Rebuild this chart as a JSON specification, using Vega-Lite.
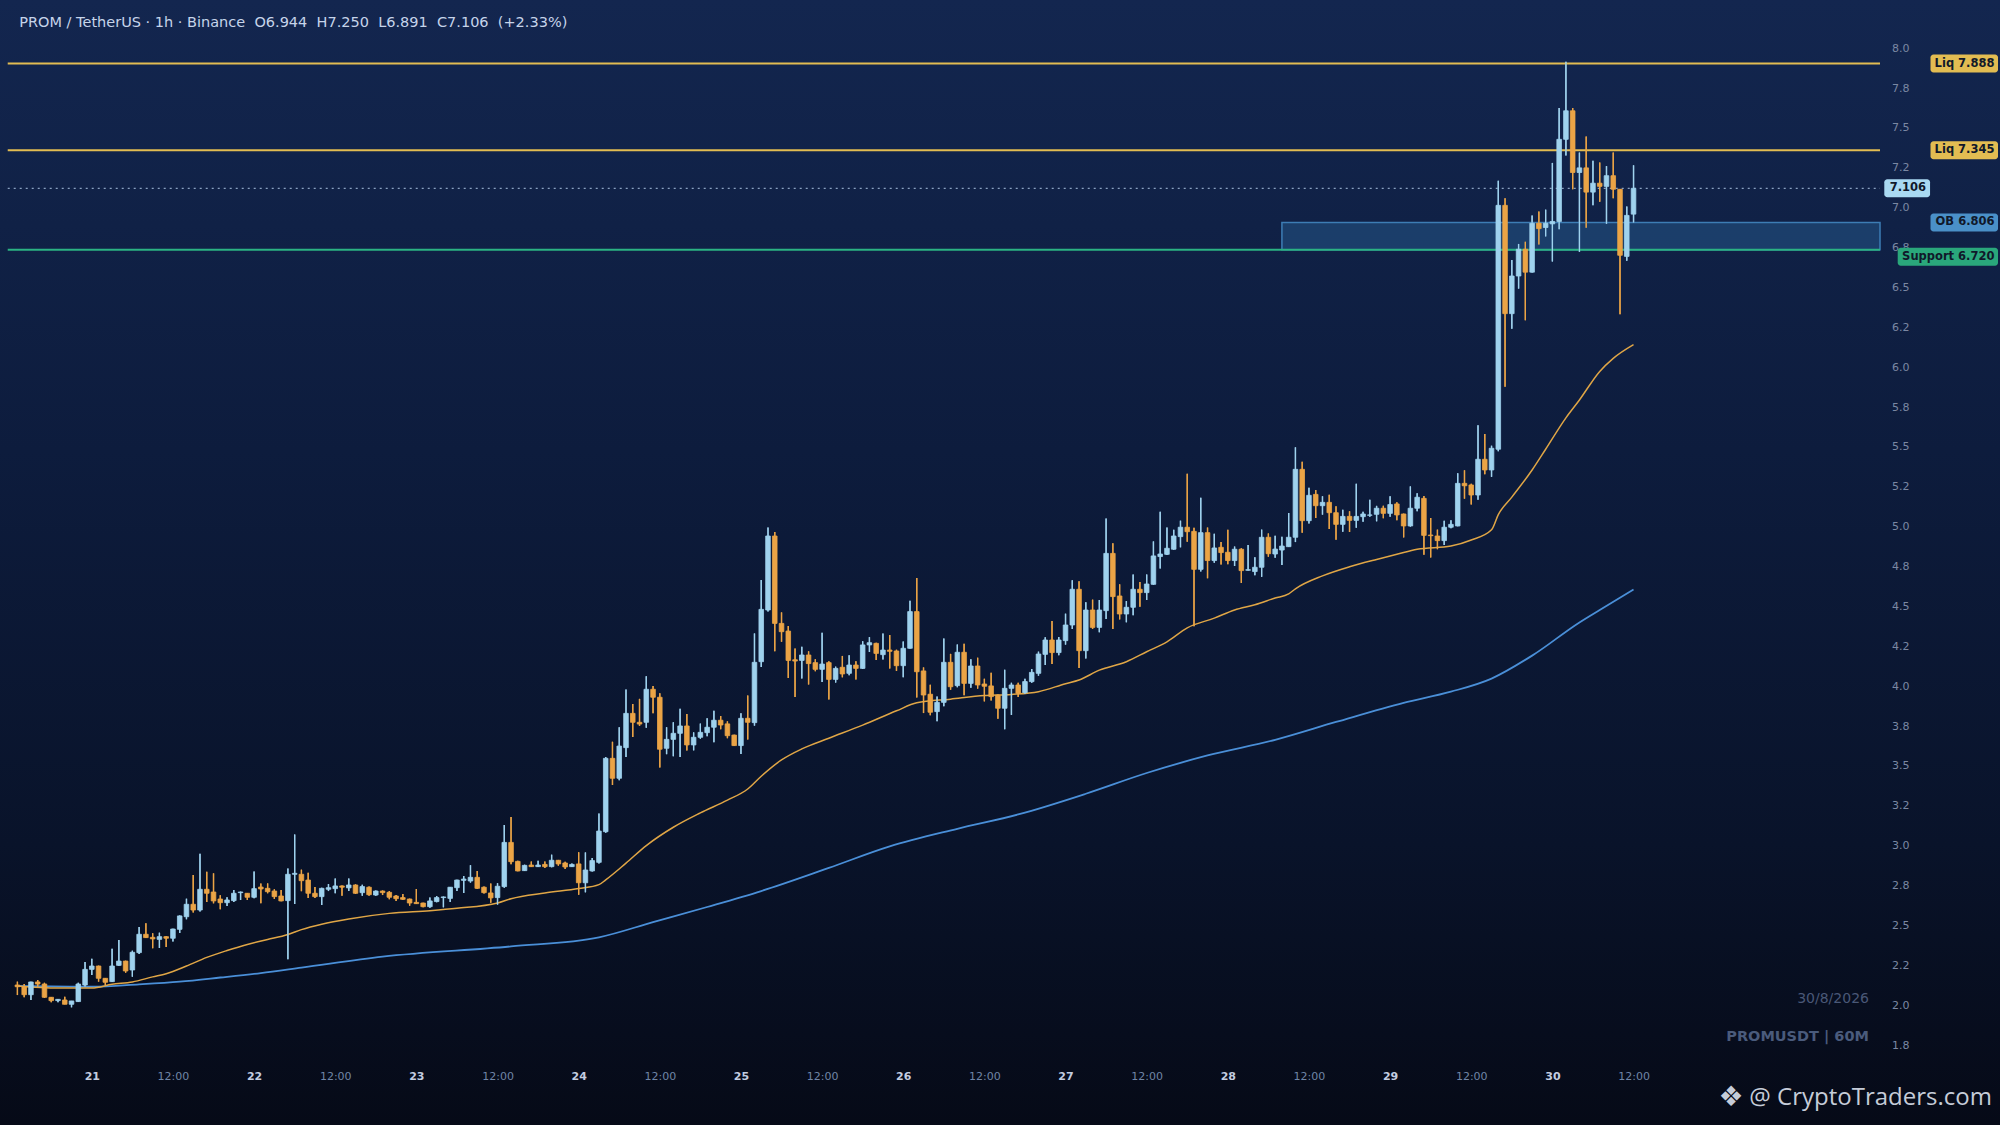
{
"$schema":"https://vega.github.io/schema/vega-lite/v6.json",
"width":2000,"height":1125,"padding":0,"autosize":{"type":"none"},
"background":"#070c1a",
"config":{"view":{"stroke":null,"fill":{"gradient":"linear","x1":0,"y1":0,"x2":0,"y2":1,"stops":[{"offset":0,"color":"#13264f"},{"offset":0.4,"color":"#0d1c3d"},{"offset":0.75,"color":"#09132a"},{"offset":1,"color":"#060a17"}]}},"font":"DejaVu Sans"},
"datasets":{
"candles":[
{"t":"2026-08-20T13:00Z","o":2.111,"h":2.132,"l":2.048,"c":2.100},
{"t":"2026-08-20T14:00Z","o":2.100,"h":2.117,"l":2.034,"c":2.050},
{"t":"2026-08-20T15:00Z","o":2.050,"h":2.132,"l":2.017,"c":2.130},
{"t":"2026-08-20T16:00Z","o":2.130,"h":2.142,"l":2.100,"c":2.117},
{"t":"2026-08-20T17:00Z","o":2.117,"h":2.125,"l":2.030,"c":2.034},
{"t":"2026-08-20T18:00Z","o":2.034,"h":2.036,"l":2.003,"c":2.013},
{"t":"2026-08-20T19:00Z","o":2.013,"h":2.021,"l":2.003,"c":2.021},
{"t":"2026-08-20T20:00Z","o":2.017,"h":2.038,"l":1.990,"c":1.990},
{"t":"2026-08-20T21:00Z","o":1.990,"h":2.011,"l":1.971,"c":2.011},
{"t":"2026-08-20T22:00Z","o":2.007,"h":2.125,"l":2.005,"c":2.117},
{"t":"2026-08-20T23:00Z","o":2.111,"h":2.255,"l":2.100,"c":2.209},
{"t":"2026-08-21T00:00Z","o":2.209,"h":2.276,"l":2.174,"c":2.230},
{"t":"2026-08-21T01:00Z","o":2.230,"h":2.232,"l":2.132,"c":2.153},
{"t":"2026-08-21T02:00Z","o":2.153,"h":2.155,"l":2.111,"c":2.128},
{"t":"2026-08-21T03:00Z","o":2.132,"h":2.339,"l":2.130,"c":2.230},
{"t":"2026-08-21T04:00Z","o":2.234,"h":2.393,"l":2.232,"c":2.261},
{"t":"2026-08-21T05:00Z","o":2.261,"h":2.263,"l":2.188,"c":2.199},
{"t":"2026-08-21T06:00Z","o":2.205,"h":2.326,"l":2.163,"c":2.316},
{"t":"2026-08-21T07:00Z","o":2.314,"h":2.475,"l":2.305,"c":2.429},
{"t":"2026-08-21T08:00Z","o":2.429,"h":2.498,"l":2.406,"c":2.408},
{"t":"2026-08-21T09:00Z","o":2.410,"h":2.435,"l":2.341,"c":2.400},
{"t":"2026-08-21T10:00Z","o":2.397,"h":2.439,"l":2.343,"c":2.414},
{"t":"2026-08-21T11:00Z","o":2.414,"h":2.416,"l":2.349,"c":2.404},
{"t":"2026-08-21T12:00Z","o":2.404,"h":2.464,"l":2.383,"c":2.462},
{"t":"2026-08-21T13:00Z","o":2.460,"h":2.546,"l":2.437,"c":2.544},
{"t":"2026-08-21T14:00Z","o":2.539,"h":2.652,"l":2.523,"c":2.617},
{"t":"2026-08-21T15:00Z","o":2.617,"h":2.800,"l":2.565,"c":2.581},
{"t":"2026-08-21T16:00Z","o":2.581,"h":2.934,"l":2.571,"c":2.711},
{"t":"2026-08-21T17:00Z","o":2.711,"h":2.821,"l":2.632,"c":2.686},
{"t":"2026-08-21T18:00Z","o":2.694,"h":2.811,"l":2.623,"c":2.638},
{"t":"2026-08-21T19:00Z","o":2.650,"h":2.673,"l":2.586,"c":2.627},
{"t":"2026-08-21T20:00Z","o":2.627,"h":2.661,"l":2.606,"c":2.644},
{"t":"2026-08-21T21:00Z","o":2.640,"h":2.707,"l":2.631,"c":2.686},
{"t":"2026-08-21T22:00Z","o":2.690,"h":2.696,"l":2.644,"c":2.694},
{"t":"2026-08-21T23:00Z","o":2.686,"h":2.688,"l":2.644,"c":2.661},
{"t":"2026-08-22T00:00Z","o":2.661,"h":2.823,"l":2.655,"c":2.715},
{"t":"2026-08-22T01:00Z","o":2.725,"h":2.748,"l":2.623,"c":2.713},
{"t":"2026-08-22T02:00Z","o":2.717,"h":2.748,"l":2.686,"c":2.696},
{"t":"2026-08-22T03:00Z","o":2.700,"h":2.711,"l":2.650,"c":2.665},
{"t":"2026-08-22T04:00Z","o":2.669,"h":2.707,"l":2.636,"c":2.638},
{"t":"2026-08-22T05:00Z","o":2.640,"h":2.842,"l":2.273,"c":2.805},
{"t":"2026-08-22T06:00Z","o":2.805,"h":3.054,"l":2.619,"c":2.811},
{"t":"2026-08-22T07:00Z","o":2.805,"h":2.834,"l":2.699,"c":2.765},
{"t":"2026-08-22T08:00Z","o":2.769,"h":2.815,"l":2.657,"c":2.686},
{"t":"2026-08-22T09:00Z","o":2.686,"h":2.726,"l":2.657,"c":2.665},
{"t":"2026-08-22T10:00Z","o":2.665,"h":2.721,"l":2.612,"c":2.717},
{"t":"2026-08-22T11:00Z","o":2.711,"h":2.744,"l":2.700,"c":2.721},
{"t":"2026-08-22T12:00Z","o":2.715,"h":2.778,"l":2.686,"c":2.732},
{"t":"2026-08-22T13:00Z","o":2.732,"h":2.734,"l":2.671,"c":2.724},
{"t":"2026-08-22T14:00Z","o":2.720,"h":2.778,"l":2.701,"c":2.738},
{"t":"2026-08-22T15:00Z","o":2.738,"h":2.742,"l":2.682,"c":2.686},
{"t":"2026-08-22T16:00Z","o":2.690,"h":2.740,"l":2.671,"c":2.728},
{"t":"2026-08-22T17:00Z","o":2.724,"h":2.728,"l":2.671,"c":2.677},
{"t":"2026-08-22T18:00Z","o":2.675,"h":2.703,"l":2.671,"c":2.700},
{"t":"2026-08-22T19:00Z","o":2.700,"h":2.703,"l":2.675,"c":2.690},
{"t":"2026-08-22T20:00Z","o":2.692,"h":2.701,"l":2.648,"c":2.661},
{"t":"2026-08-22T21:00Z","o":2.669,"h":2.675,"l":2.638,"c":2.652},
{"t":"2026-08-22T22:00Z","o":2.659,"h":2.682,"l":2.646,"c":2.648},
{"t":"2026-08-22T23:00Z","o":2.650,"h":2.652,"l":2.608,"c":2.625},
{"t":"2026-08-23T00:00Z","o":2.629,"h":2.713,"l":2.619,"c":2.621},
{"t":"2026-08-23T01:00Z","o":2.625,"h":2.627,"l":2.598,"c":2.602},
{"t":"2026-08-23T02:00Z","o":2.602,"h":2.659,"l":2.595,"c":2.638},
{"t":"2026-08-23T03:00Z","o":2.634,"h":2.669,"l":2.629,"c":2.659},
{"t":"2026-08-23T04:00Z","o":2.659,"h":2.665,"l":2.598,"c":2.663},
{"t":"2026-08-23T05:00Z","o":2.654,"h":2.726,"l":2.631,"c":2.724},
{"t":"2026-08-23T06:00Z","o":2.721,"h":2.771,"l":2.700,"c":2.769},
{"t":"2026-08-23T07:00Z","o":2.767,"h":2.794,"l":2.688,"c":2.775},
{"t":"2026-08-23T08:00Z","o":2.763,"h":2.862,"l":2.753,"c":2.786},
{"t":"2026-08-23T09:00Z","o":2.786,"h":2.826,"l":2.713,"c":2.717},
{"t":"2026-08-23T10:00Z","o":2.724,"h":2.728,"l":2.684,"c":2.690},
{"t":"2026-08-23T11:00Z","o":2.688,"h":2.747,"l":2.627,"c":2.657},
{"t":"2026-08-23T12:00Z","o":2.659,"h":2.749,"l":2.615,"c":2.730},
{"t":"2026-08-23T13:00Z","o":2.728,"h":3.114,"l":2.721,"c":3.005},
{"t":"2026-08-23T14:00Z","o":3.005,"h":3.164,"l":2.868,"c":2.884},
{"t":"2026-08-23T15:00Z","o":2.886,"h":2.890,"l":2.824,"c":2.826},
{"t":"2026-08-23T16:00Z","o":2.828,"h":2.865,"l":2.826,"c":2.861},
{"t":"2026-08-23T17:00Z","o":2.863,"h":2.886,"l":2.851,"c":2.853},
{"t":"2026-08-23T18:00Z","o":2.853,"h":2.890,"l":2.851,"c":2.863},
{"t":"2026-08-23T19:00Z","o":2.867,"h":2.886,"l":2.844,"c":2.853},
{"t":"2026-08-23T20:00Z","o":2.853,"h":2.928,"l":2.849,"c":2.893},
{"t":"2026-08-23T21:00Z","o":2.893,"h":2.895,"l":2.859,"c":2.870},
{"t":"2026-08-23T22:00Z","o":2.876,"h":2.884,"l":2.838,"c":2.851},
{"t":"2026-08-23T23:00Z","o":2.853,"h":2.872,"l":2.851,"c":2.867},
{"t":"2026-08-24T00:00Z","o":2.870,"h":2.943,"l":2.677,"c":2.752},
{"t":"2026-08-24T01:00Z","o":2.752,"h":2.942,"l":2.692,"c":2.832},
{"t":"2026-08-24T02:00Z","o":2.826,"h":2.907,"l":2.822,"c":2.891},
{"t":"2026-08-24T03:00Z","o":2.880,"h":3.186,"l":2.872,"c":3.076},
{"t":"2026-08-24T04:00Z","o":3.072,"h":3.540,"l":3.065,"c":3.532},
{"t":"2026-08-24T05:00Z","o":3.532,"h":3.636,"l":3.365,"c":3.407},
{"t":"2026-08-24T06:00Z","o":3.407,"h":3.727,"l":3.395,"c":3.609},
{"t":"2026-08-24T07:00Z","o":3.599,"h":3.964,"l":3.541,"c":3.814},
{"t":"2026-08-24T08:00Z","o":3.814,"h":3.872,"l":3.666,"c":3.758},
{"t":"2026-08-24T09:00Z","o":3.758,"h":3.905,"l":3.735,"c":3.747},
{"t":"2026-08-24T10:00Z","o":3.758,"h":4.047,"l":3.724,"c":3.965},
{"t":"2026-08-24T11:00Z","o":3.965,"h":3.986,"l":3.814,"c":3.915},
{"t":"2026-08-24T12:00Z","o":3.915,"h":3.940,"l":3.474,"c":3.589},
{"t":"2026-08-24T13:00Z","o":3.595,"h":3.727,"l":3.558,"c":3.651},
{"t":"2026-08-24T14:00Z","o":3.651,"h":3.758,"l":3.545,"c":3.689},
{"t":"2026-08-24T15:00Z","o":3.689,"h":3.843,"l":3.541,"c":3.735},
{"t":"2026-08-24T16:00Z","o":3.735,"h":3.810,"l":3.581,"c":3.616},
{"t":"2026-08-24T17:00Z","o":3.616,"h":3.695,"l":3.582,"c":3.664},
{"t":"2026-08-24T18:00Z","o":3.664,"h":3.750,"l":3.655,"c":3.695},
{"t":"2026-08-24T19:00Z","o":3.693,"h":3.783,"l":3.670,"c":3.727},
{"t":"2026-08-24T20:00Z","o":3.727,"h":3.830,"l":3.633,"c":3.771},
{"t":"2026-08-24T21:00Z","o":3.771,"h":3.798,"l":3.714,"c":3.741},
{"t":"2026-08-24T22:00Z","o":3.748,"h":3.764,"l":3.658,"c":3.674},
{"t":"2026-08-24T23:00Z","o":3.678,"h":3.680,"l":3.610,"c":3.612},
{"t":"2026-08-25T00:00Z","o":3.612,"h":3.815,"l":3.560,"c":3.783},
{"t":"2026-08-25T01:00Z","o":3.783,"h":3.926,"l":3.650,"c":3.758},
{"t":"2026-08-25T02:00Z","o":3.756,"h":4.315,"l":3.737,"c":4.134},
{"t":"2026-08-25T03:00Z","o":4.138,"h":4.650,"l":4.104,"c":4.466},
{"t":"2026-08-25T04:00Z","o":4.462,"h":4.980,"l":4.452,"c":4.926},
{"t":"2026-08-25T05:00Z","o":4.926,"h":4.951,"l":4.203,"c":4.378},
{"t":"2026-08-25T06:00Z","o":4.378,"h":4.447,"l":4.263,"c":4.326},
{"t":"2026-08-25T07:00Z","o":4.330,"h":4.361,"l":4.036,"c":4.146},
{"t":"2026-08-25T08:00Z","o":4.150,"h":4.220,"l":3.916,"c":4.142},
{"t":"2026-08-25T09:00Z","o":4.146,"h":4.232,"l":4.032,"c":4.180},
{"t":"2026-08-25T10:00Z","o":4.180,"h":4.203,"l":3.995,"c":4.126},
{"t":"2026-08-25T11:00Z","o":4.132,"h":4.153,"l":4.078,"c":4.090},
{"t":"2026-08-25T12:00Z","o":4.090,"h":4.319,"l":4.011,"c":4.123},
{"t":"2026-08-25T13:00Z","o":4.132,"h":4.140,"l":3.901,"c":4.027},
{"t":"2026-08-25T14:00Z","o":4.027,"h":4.107,"l":4.007,"c":4.096},
{"t":"2026-08-25T15:00Z","o":4.103,"h":4.174,"l":4.040,"c":4.061},
{"t":"2026-08-25T16:00Z","o":4.065,"h":4.178,"l":4.053,"c":4.117},
{"t":"2026-08-25T17:00Z","o":4.117,"h":4.140,"l":4.027,"c":4.096},
{"t":"2026-08-25T18:00Z","o":4.096,"h":4.266,"l":4.092,"c":4.243},
{"t":"2026-08-25T19:00Z","o":4.243,"h":4.292,"l":4.199,"c":4.257},
{"t":"2026-08-25T20:00Z","o":4.253,"h":4.257,"l":4.149,"c":4.190},
{"t":"2026-08-25T21:00Z","o":4.182,"h":4.315,"l":4.151,"c":4.211},
{"t":"2026-08-25T22:00Z","o":4.211,"h":4.305,"l":4.096,"c":4.203},
{"t":"2026-08-25T23:00Z","o":4.205,"h":4.213,"l":4.080,"c":4.113},
{"t":"2026-08-26T00:00Z","o":4.113,"h":4.265,"l":4.040,"c":4.222},
{"t":"2026-08-26T01:00Z","o":4.222,"h":4.520,"l":4.220,"c":4.452},
{"t":"2026-08-26T02:00Z","o":4.452,"h":4.662,"l":3.913,"c":4.075},
{"t":"2026-08-26T03:00Z","o":4.080,"h":4.102,"l":3.816,"c":3.929},
{"t":"2026-08-26T04:00Z","o":3.934,"h":3.993,"l":3.802,"c":3.821},
{"t":"2026-08-26T05:00Z","o":3.825,"h":3.919,"l":3.764,"c":3.883},
{"t":"2026-08-26T06:00Z","o":3.883,"h":4.283,"l":3.858,"c":4.134},
{"t":"2026-08-26T07:00Z","o":4.134,"h":4.187,"l":3.962,"c":3.981},
{"t":"2026-08-26T08:00Z","o":3.988,"h":4.245,"l":3.977,"c":4.197},
{"t":"2026-08-26T09:00Z","o":4.197,"h":4.251,"l":3.927,"c":4.002},
{"t":"2026-08-26T10:00Z","o":4.002,"h":4.153,"l":3.975,"c":4.111},
{"t":"2026-08-26T11:00Z","o":4.111,"h":4.163,"l":3.969,"c":3.992},
{"t":"2026-08-26T12:00Z","o":3.998,"h":4.031,"l":3.889,"c":3.984},
{"t":"2026-08-26T13:00Z","o":3.986,"h":4.069,"l":3.894,"c":3.919},
{"t":"2026-08-26T14:00Z","o":3.929,"h":3.933,"l":3.781,"c":3.846},
{"t":"2026-08-26T15:00Z","o":3.846,"h":4.088,"l":3.715,"c":3.971},
{"t":"2026-08-26T16:00Z","o":3.971,"h":4.006,"l":3.804,"c":3.992},
{"t":"2026-08-26T17:00Z","o":3.992,"h":4.006,"l":3.917,"c":3.940},
{"t":"2026-08-26T18:00Z","o":3.944,"h":4.031,"l":3.936,"c":4.013},
{"t":"2026-08-26T19:00Z","o":4.013,"h":4.092,"l":4.006,"c":4.071},
{"t":"2026-08-26T20:00Z","o":4.065,"h":4.201,"l":4.050,"c":4.186},
{"t":"2026-08-26T21:00Z","o":4.184,"h":4.291,"l":4.117,"c":4.274},
{"t":"2026-08-26T22:00Z","o":4.274,"h":4.393,"l":4.124,"c":4.195},
{"t":"2026-08-26T23:00Z","o":4.195,"h":4.293,"l":4.178,"c":4.274},
{"t":"2026-08-27T00:00Z","o":4.270,"h":4.439,"l":4.245,"c":4.368},
{"t":"2026-08-27T01:00Z","o":4.368,"h":4.648,"l":4.343,"c":4.592},
{"t":"2026-08-27T02:00Z","o":4.592,"h":4.643,"l":4.098,"c":4.207},
{"t":"2026-08-27T03:00Z","o":4.207,"h":4.511,"l":4.158,"c":4.462},
{"t":"2026-08-27T04:00Z","o":4.462,"h":4.527,"l":4.343,"c":4.353},
{"t":"2026-08-27T05:00Z","o":4.353,"h":4.525,"l":4.322,"c":4.462},
{"t":"2026-08-27T06:00Z","o":4.458,"h":5.036,"l":4.406,"c":4.817},
{"t":"2026-08-27T07:00Z","o":4.817,"h":4.880,"l":4.343,"c":4.546},
{"t":"2026-08-27T08:00Z","o":4.550,"h":4.623,"l":4.403,"c":4.437},
{"t":"2026-08-27T09:00Z","o":4.437,"h":4.518,"l":4.385,"c":4.479},
{"t":"2026-08-27T10:00Z","o":4.479,"h":4.685,"l":4.429,"c":4.592},
{"t":"2026-08-27T11:00Z","o":4.592,"h":4.638,"l":4.483,"c":4.571},
{"t":"2026-08-27T12:00Z","o":4.571,"h":4.685,"l":4.525,"c":4.625},
{"t":"2026-08-27T13:00Z","o":4.623,"h":4.892,"l":4.621,"c":4.801},
{"t":"2026-08-27T14:00Z","o":4.797,"h":5.078,"l":4.723,"c":4.813},
{"t":"2026-08-27T15:00Z","o":4.811,"h":4.979,"l":4.807,"c":4.849},
{"t":"2026-08-27T16:00Z","o":4.843,"h":4.965,"l":4.840,"c":4.926},
{"t":"2026-08-27T17:00Z","o":4.922,"h":5.022,"l":4.855,"c":4.981},
{"t":"2026-08-27T18:00Z","o":4.981,"h":5.317,"l":4.890,"c":4.953},
{"t":"2026-08-27T19:00Z","o":4.955,"h":4.977,"l":4.360,"c":4.717},
{"t":"2026-08-27T20:00Z","o":4.717,"h":5.166,"l":4.703,"c":4.947},
{"t":"2026-08-27T21:00Z","o":4.947,"h":4.979,"l":4.661,"c":4.772},
{"t":"2026-08-27T22:00Z","o":4.772,"h":4.940,"l":4.759,"c":4.851},
{"t":"2026-08-27T23:00Z","o":4.855,"h":4.888,"l":4.747,"c":4.822},
{"t":"2026-08-28T00:00Z","o":4.824,"h":4.965,"l":4.749,"c":4.772},
{"t":"2026-08-28T01:00Z","o":4.772,"h":4.860,"l":4.738,"c":4.843},
{"t":"2026-08-28T02:00Z","o":4.843,"h":4.849,"l":4.632,"c":4.709},
{"t":"2026-08-28T03:00Z","o":4.711,"h":4.870,"l":4.709,"c":4.715},
{"t":"2026-08-28T04:00Z","o":4.703,"h":4.792,"l":4.680,"c":4.730},
{"t":"2026-08-28T05:00Z","o":4.730,"h":4.966,"l":4.670,"c":4.918},
{"t":"2026-08-28T06:00Z","o":4.918,"h":4.942,"l":4.796,"c":4.815},
{"t":"2026-08-28T07:00Z","o":4.813,"h":4.928,"l":4.790,"c":4.844},
{"t":"2026-08-28T08:00Z","o":4.838,"h":4.922,"l":4.744,"c":4.863},
{"t":"2026-08-28T09:00Z","o":4.859,"h":5.070,"l":4.857,"c":4.918},
{"t":"2026-08-28T10:00Z","o":4.918,"h":5.482,"l":4.888,"c":5.344},
{"t":"2026-08-28T11:00Z","o":5.344,"h":5.392,"l":4.946,"c":5.022},
{"t":"2026-08-28T12:00Z","o":5.022,"h":5.229,"l":5.005,"c":5.181},
{"t":"2026-08-28T13:00Z","o":5.187,"h":5.214,"l":5.039,"c":5.116},
{"t":"2026-08-28T14:00Z","o":5.116,"h":5.175,"l":5.060,"c":5.137},
{"t":"2026-08-28T15:00Z","o":5.137,"h":5.185,"l":4.970,"c":5.072},
{"t":"2026-08-28T16:00Z","o":5.072,"h":5.112,"l":4.902,"c":4.999},
{"t":"2026-08-28T17:00Z","o":4.999,"h":5.091,"l":4.953,"c":5.049},
{"t":"2026-08-28T18:00Z","o":5.049,"h":5.081,"l":4.951,"c":5.024},
{"t":"2026-08-28T19:00Z","o":5.024,"h":5.254,"l":4.978,"c":5.049},
{"t":"2026-08-28T20:00Z","o":5.047,"h":5.078,"l":5.016,"c":5.064},
{"t":"2026-08-28T21:00Z","o":5.056,"h":5.154,"l":5.047,"c":5.058},
{"t":"2026-08-28T22:00Z","o":5.062,"h":5.115,"l":5.018,"c":5.100},
{"t":"2026-08-28T23:00Z","o":5.100,"h":5.115,"l":5.037,"c":5.068},
{"t":"2026-08-29T00:00Z","o":5.068,"h":5.175,"l":5.047,"c":5.123},
{"t":"2026-08-29T01:00Z","o":5.127,"h":5.137,"l":5.024,"c":5.058},
{"t":"2026-08-29T02:00Z","o":5.064,"h":5.066,"l":4.917,"c":4.989},
{"t":"2026-08-29T03:00Z","o":4.989,"h":5.237,"l":4.985,"c":5.100},
{"t":"2026-08-29T04:00Z","o":5.100,"h":5.194,"l":5.081,"c":5.169},
{"t":"2026-08-29T05:00Z","o":5.162,"h":5.177,"l":4.808,"c":4.930},
{"t":"2026-08-29T06:00Z","o":4.932,"h":5.039,"l":4.791,"c":4.928},
{"t":"2026-08-29T07:00Z","o":4.926,"h":4.966,"l":4.843,"c":4.897},
{"t":"2026-08-29T08:00Z","o":4.897,"h":5.022,"l":4.870,"c":4.981},
{"t":"2026-08-29T09:00Z","o":4.981,"h":5.024,"l":4.975,"c":4.999},
{"t":"2026-08-29T10:00Z","o":4.989,"h":5.319,"l":4.987,"c":5.256},
{"t":"2026-08-29T11:00Z","o":5.256,"h":5.338,"l":5.160,"c":5.241},
{"t":"2026-08-29T12:00Z","o":5.246,"h":5.254,"l":5.123,"c":5.183},
{"t":"2026-08-29T13:00Z","o":5.183,"h":5.620,"l":5.154,"c":5.407},
{"t":"2026-08-29T14:00Z","o":5.407,"h":5.566,"l":5.313,"c":5.340},
{"t":"2026-08-29T15:00Z","o":5.340,"h":5.492,"l":5.297,"c":5.476},
{"t":"2026-08-29T16:00Z","o":5.470,"h":7.153,"l":5.458,"c":6.999},
{"t":"2026-08-29T17:00Z","o":6.999,"h":7.044,"l":5.862,"c":6.320},
{"t":"2026-08-29T18:00Z","o":6.320,"h":6.656,"l":6.226,"c":6.556},
{"t":"2026-08-29T19:00Z","o":6.556,"h":6.757,"l":6.477,"c":6.724},
{"t":"2026-08-29T20:00Z","o":6.724,"h":6.771,"l":6.278,"c":6.580},
{"t":"2026-08-29T21:00Z","o":6.580,"h":6.936,"l":6.578,"c":6.887},
{"t":"2026-08-29T22:00Z","o":6.887,"h":6.961,"l":6.753,"c":6.853},
{"t":"2026-08-29T23:00Z","o":6.860,"h":6.972,"l":6.804,"c":6.887},
{"t":"2026-08-30T00:00Z","o":6.883,"h":7.265,"l":6.647,"c":6.898},
{"t":"2026-08-30T01:00Z","o":6.898,"h":7.610,"l":6.849,"c":7.413},
{"t":"2026-08-30T02:00Z","o":7.413,"h":7.900,"l":7.312,"c":7.592},
{"t":"2026-08-30T03:00Z","o":7.592,"h":7.610,"l":7.100,"c":7.205},
{"t":"2026-08-30T04:00Z","o":7.205,"h":7.330,"l":6.708,"c":7.234},
{"t":"2026-08-30T05:00Z","o":7.234,"h":7.431,"l":6.858,"c":7.082},
{"t":"2026-08-30T06:00Z","o":7.082,"h":7.279,"l":6.999,"c":7.138},
{"t":"2026-08-30T07:00Z","o":7.138,"h":7.268,"l":7.021,"c":7.118},
{"t":"2026-08-30T08:00Z","o":7.118,"h":7.245,"l":6.883,"c":7.185},
{"t":"2026-08-30T09:00Z","o":7.185,"h":7.330,"l":7.044,"c":7.100},
{"t":"2026-08-30T10:00Z","o":7.100,"h":7.102,"l":6.316,"c":6.686},
{"t":"2026-08-30T11:00Z","o":6.679,"h":6.992,"l":6.652,"c":6.936},
{"t":"2026-08-30T12:00Z","o":6.944,"h":7.250,"l":6.891,"c":7.106}
],
"ema50":[
{"t":"2026-08-20T13:00Z","v":2.105},{"t":"2026-08-20T19:00Z","v":2.092},{"t":"2026-08-21T00:00Z","v":2.092},{"t":"2026-08-21T03:00Z","v":2.115},{"t":"2026-08-21T06:00Z","v":2.130},{"t":"2026-08-21T09:00Z","v":2.162},{"t":"2026-08-21T11:00Z","v":2.182},{"t":"2026-08-21T14:00Z","v":2.230},{"t":"2026-08-21T17:00Z","v":2.284},{"t":"2026-08-21T20:00Z","v":2.327},{"t":"2026-08-21T23:00Z","v":2.365},{"t":"2026-08-22T02:00Z","v":2.396},{"t":"2026-08-22T05:00Z","v":2.428},{"t":"2026-08-22T07:00Z","v":2.458},{"t":"2026-08-22T10:00Z","v":2.492},{"t":"2026-08-22T14:00Z","v":2.525},{"t":"2026-08-22T20:00Z","v":2.560},{"t":"2026-08-23T02:00Z","v":2.577},{"t":"2026-08-23T06:00Z","v":2.592},{"t":"2026-08-23T12:00Z","v":2.625},{"t":"2026-08-23T14:00Z","v":2.652},{"t":"2026-08-23T19:00Z","v":2.688},{"t":"2026-08-24T00:00Z","v":2.716},{"t":"2026-08-24T03:00Z","v":2.740},{"t":"2026-08-24T04:00Z","v":2.770},{"t":"2026-08-24T07:00Z","v":2.875},{"t":"2026-08-24T10:00Z","v":2.985},{"t":"2026-08-24T14:00Z","v":3.100},{"t":"2026-08-24T18:00Z","v":3.190},{"t":"2026-08-24T22:00Z","v":3.270},{"t":"2026-08-25T01:00Z","v":3.340},{"t":"2026-08-25T03:00Z","v":3.420},{"t":"2026-08-25T06:00Z","v":3.522},{"t":"2026-08-25T09:00Z","v":3.591},{"t":"2026-08-25T13:00Z","v":3.658},{"t":"2026-08-25T18:00Z","v":3.740},{"t":"2026-08-25T23:00Z","v":3.830},{"t":"2026-08-26T02:00Z","v":3.880},{"t":"2026-08-26T07:00Z","v":3.903},{"t":"2026-08-26T12:00Z","v":3.926},{"t":"2026-08-26T16:00Z","v":3.933},{"t":"2026-08-26T20:00Z","v":3.950},{"t":"2026-08-27T00:00Z","v":4.000},{"t":"2026-08-27T02:00Z","v":4.023},{"t":"2026-08-27T05:00Z","v":4.085},{"t":"2026-08-27T09:00Z","v":4.138},{"t":"2026-08-27T12:00Z","v":4.200},{"t":"2026-08-27T15:00Z","v":4.262},{"t":"2026-08-27T18:00Z","v":4.350},{"t":"2026-08-27T22:00Z","v":4.411},{"t":"2026-08-28T01:00Z","v":4.462},{"t":"2026-08-28T04:00Z","v":4.495},{"t":"2026-08-28T07:00Z","v":4.537},{"t":"2026-08-28T09:00Z","v":4.563},{"t":"2026-08-28T10:00Z","v":4.595},{"t":"2026-08-28T14:00Z","v":4.676},{"t":"2026-08-28T18:00Z","v":4.733},{"t":"2026-08-28T22:00Z","v":4.779},{"t":"2026-08-29T01:00Z","v":4.811},{"t":"2026-08-29T04:00Z","v":4.843},{"t":"2026-08-29T09:00Z","v":4.863},{"t":"2026-08-29T12:00Z","v":4.901},{"t":"2026-08-29T15:00Z","v":4.965},{"t":"2026-08-29T16:00Z","v":5.060},{"t":"2026-08-29T18:00Z","v":5.170},{"t":"2026-08-29T21:00Z","v":5.340},{"t":"2026-08-29T23:00Z","v":5.470},{"t":"2026-08-30T02:00Z","v":5.667},{"t":"2026-08-30T04:00Z","v":5.779},{"t":"2026-08-30T07:00Z","v":5.958},{"t":"2026-08-30T09:00Z","v":6.040},{"t":"2026-08-30T12:00Z","v":6.126}
],
"ema200":[
{"t":"2026-08-20T13:00Z","v":2.105},{"t":"2026-08-21T00:00Z","v":2.100},{"t":"2026-08-21T07:00Z","v":2.115},{"t":"2026-08-21T13:00Z","v":2.132},{"t":"2026-08-21T19:00Z","v":2.158},{"t":"2026-08-22T01:00Z","v":2.186},{"t":"2026-08-22T07:00Z","v":2.220},{"t":"2026-08-22T19:00Z","v":2.289},{"t":"2026-08-23T14:00Z","v":2.353},{"t":"2026-08-24T03:00Z","v":2.410},{"t":"2026-08-24T11:00Z","v":2.505},{"t":"2026-08-24T19:00Z","v":2.600},{"t":"2026-08-25T03:00Z","v":2.700},{"t":"2026-08-25T13:00Z","v":2.845},{"t":"2026-08-25T22:00Z","v":2.980},{"t":"2026-08-26T08:00Z","v":3.090},{"t":"2026-08-26T17:00Z","v":3.180},{"t":"2026-08-27T03:00Z","v":3.310},{"t":"2026-08-27T12:00Z","v":3.440},{"t":"2026-08-27T21:00Z","v":3.550},{"t":"2026-08-28T07:00Z","v":3.648},{"t":"2026-08-28T16:00Z","v":3.760},{"t":"2026-08-29T02:00Z","v":3.880},{"t":"2026-08-29T09:00Z","v":3.950},{"t":"2026-08-29T15:00Z","v":4.032},{"t":"2026-08-29T21:00Z","v":4.176},{"t":"2026-08-30T04:00Z","v":4.384},{"t":"2026-08-30T07:00Z","v":4.462},{"t":"2026-08-30T12:00Z","v":4.590}
]
},
"layer":[
{"data":{"name":"candles"},
 "mark":{"type":"rule","strokeWidth":1.3},
 "encoding":{
  "x":{"field":"t","type":"temporal",
   "scale":{"type":"utc","nice":false,"padding":0,"domain":[{"year":2026,"month":8,"date":20,"hours":10,"minutes":25,"seconds":26,"utc":true},{"year":2026,"month":9,"date":1,"hours":18,"minutes":11,"seconds":42,"utc":true}]},
   "axis":{"orient":"bottom","offset":-63,"title":null,"zindex":0,"domain":false,"ticks":false,"tickSize":0,"grid":false,"labelPadding":8,"labelFontSize":11,"labelOverlap":false,"labelFlush":false,"labelBaseline":"top",
    "values":[{"year":2026,"month":8,"date":21,"hours":0,"utc":true},{"year":2026,"month":8,"date":21,"hours":12,"utc":true},{"year":2026,"month":8,"date":22,"hours":0,"utc":true},{"year":2026,"month":8,"date":22,"hours":12,"utc":true},{"year":2026,"month":8,"date":23,"hours":0,"utc":true},{"year":2026,"month":8,"date":23,"hours":12,"utc":true},{"year":2026,"month":8,"date":24,"hours":0,"utc":true},{"year":2026,"month":8,"date":24,"hours":12,"utc":true},{"year":2026,"month":8,"date":25,"hours":0,"utc":true},{"year":2026,"month":8,"date":25,"hours":12,"utc":true},{"year":2026,"month":8,"date":26,"hours":0,"utc":true},{"year":2026,"month":8,"date":26,"hours":12,"utc":true},{"year":2026,"month":8,"date":27,"hours":0,"utc":true},{"year":2026,"month":8,"date":27,"hours":12,"utc":true},{"year":2026,"month":8,"date":28,"hours":0,"utc":true},{"year":2026,"month":8,"date":28,"hours":12,"utc":true},{"year":2026,"month":8,"date":29,"hours":0,"utc":true},{"year":2026,"month":8,"date":29,"hours":12,"utc":true},{"year":2026,"month":8,"date":30,"hours":0,"utc":true},{"year":2026,"month":8,"date":30,"hours":12,"utc":true}],
    "labelExpr":"utchours(datum.value) == 0 ? utcFormat(datum.value, '%-d') : '12:00'",
    "labelFontWeight":{"condition":{"test":"utchours(datum.value) == 0","value":"bold"},"value":"normal"},
    "labelColor":{"condition":{"test":"utchours(datum.value) == 0","value":"#c3cde0"},"value":"#7085a6"}}},
  "y":{"field":"l","type":"quantitative","scale":{"type":"linear","zero":false,"nice":false,"padding":0,"domain":[1.2332,8.2865]},
   "axis":{"orient":"right","offset":-120,"title":null,"zindex":0,"domain":false,"ticks":false,"tickSize":0,"grid":false,"labelPadding":11.5,"labelOffset":2.5,"labelFontSize":11,"labelColor":"#7b88a3","labelOverlap":false,"labelFlush":false,
    "values":[1.75,2,2.25,2.5,2.75,3,3.25,3.5,3.75,4,4.25,4.5,4.75,5,5.25,5.5,5.75,6,6.25,6.5,6.75,7,7.25,7.5,7.75,8],
    "labelExpr":"format(datum.value * 100 % 50 == 25 && floor(datum.value * 10) % 2 == 0 ? datum.value - 0.01 : datum.value, '.1f')"}},
  "y2":{"field":"h"},
  "color":{"condition":{"test":"datum.c >= datum.o","value":"#9fd2ee"},"value":"#eba446"}}},
{"data":{"values":[{"lo":6.72,"hi":6.892}]},
 "mark":{"type":"rect","fill":"#2a6296","fillOpacity":0.45,"stroke":"#3d7db5","strokeWidth":1.5},
 "encoding":{
  "x":{"datum":{"year":2026,"month":8,"date":28,"hours":8,"utc":true},"type":"temporal"},
  "x2":{"datum":{"year":2026,"month":9,"date":1,"hours":0,"minutes":27,"utc":true}},
  "y":{"field":"hi","type":"quantitative"},"y2":{"field":"lo"}}},
{"data":{"values":[{"kind":"liq","price":7.888},{"kind":"liq","price":7.345},{"kind":"sup","price":6.72}]},
 "mark":{"type":"rule","strokeWidth":2},
 "encoding":{
  "x":{"datum":{"year":2026,"month":8,"date":20,"hours":11,"minutes":34,"utc":true},"type":"temporal"},
  "x2":{"datum":{"year":2026,"month":9,"date":1,"hours":0,"minutes":27,"utc":true}},
  "y":{"field":"price","type":"quantitative"},
  "color":{"field":"kind","type":"nominal","scale":{"domain":["liq","ob","sup"],"range":["#e2bc52","#4a90c8","#2bb383"]},"legend":null}}},
{"data":{"values":[{"p":7.106}]},
 "mark":{"type":"rule","strokeWidth":1.2,"strokeDash":[2,4],"color":"#9fb6d6","opacity":0.85},
 "encoding":{
  "x":{"datum":{"year":2026,"month":8,"date":20,"hours":11,"minutes":34,"utc":true},"type":"temporal"},
  "x2":{"datum":{"year":2026,"month":9,"date":1,"hours":0,"minutes":27,"utc":true}},
  "y":{"field":"p","type":"quantitative"}}},
{"data":{"name":"ema200"},
 "mark":{"type":"line","color":"#4a8fd8","strokeWidth":1.8,"interpolate":"monotone"},
 "encoding":{"x":{"field":"t","type":"temporal"},"y":{"field":"v","type":"quantitative"}}},
{"data":{"name":"ema50"},
 "mark":{"type":"line","color":"#e0a646","strokeWidth":1.5,"interpolate":"monotone"},
 "encoding":{"x":{"field":"t","type":"temporal"},"y":{"field":"v","type":"quantitative"}}},
{"data":{"name":"candles"},
 "mark":{"type":"rule","strokeWidth":1.3},
 "encoding":{"x":{"field":"t","type":"temporal"},"y":{"field":"l","type":"quantitative"},"y2":{"field":"h"},
  "color":{"condition":{"test":"datum.c >= datum.o","value":"#9fd2ee"},"value":"#eba446"}}},
{"data":{"name":"candles"},
 "mark":{"type":"bar","width":4.6,"strokeWidth":0.8},
 "encoding":{"x":{"field":"t","type":"temporal"},"y":{"field":"o","type":"quantitative"},"y2":{"field":"c"},
  "fill":{"condition":{"test":"datum.c >= datum.o","value":"#9fd2ee"},"value":"#eba446"},
  "stroke":{"condition":{"test":"datum.c >= datum.o","value":"#9fd2ee"},"value":"#eba446"}}},
{"data":{"values":[{"label":"Liq 7.888","at":7.888,"kind":"liq"},{"label":"Liq 7.345","at":7.345,"kind":"liq"},{"label":"OB 6.806","at":6.892,"kind":"ob"}]},
 "layer":[
  {"mark":{"type":"bar","orient":"horizontal","height":18,"cornerRadius":3},
   "encoding":{"x":{"datum":{"year":2026,"month":9,"date":1,"hours":7,"minutes":55,"utc":true},"type":"temporal"},
    "x2":{"datum":{"year":2026,"month":9,"date":1,"hours":17,"minutes":54,"utc":true}},
    "y":{"field":"at","type":"quantitative"},
    "color":{"field":"kind","type":"nominal","scale":{"domain":["liq","ob","sup"],"range":["#e2bc52","#4a90c8","#2bb383"]},"legend":null}}},
  {"mark":{"type":"text","align":"right","baseline":"middle","dx":-3.5,"fontSize":11.5,"fontWeight":"bold","color":"#10182a"},
   "encoding":{"x":{"datum":{"year":2026,"month":9,"date":1,"hours":17,"minutes":54,"utc":true},"type":"temporal"},
    "y":{"field":"at","type":"quantitative"},"text":{"field":"label"}}}
 ]},
{"data":{"values":[{"label":"Support 6.720","at":6.72}]},
 "layer":[
  {"mark":{"type":"bar","orient":"horizontal","height":18,"cornerRadius":3,"yOffset":7,"color":"#2aa77b"},
   "encoding":{"x":{"datum":{"year":2026,"month":9,"date":1,"hours":3,"minutes":4,"utc":true},"type":"temporal"},
    "x2":{"datum":{"year":2026,"month":9,"date":1,"hours":17,"minutes":54,"utc":true}},
    "y":{"field":"at","type":"quantitative"}}},
  {"mark":{"type":"text","align":"right","baseline":"middle","dx":-3.5,"dy":7,"fontSize":11.5,"fontWeight":"bold","color":"#10182a"},
   "encoding":{"x":{"datum":{"year":2026,"month":9,"date":1,"hours":17,"minutes":54,"utc":true},"type":"temporal"},
    "y":{"field":"at","type":"quantitative"},"text":{"field":"label"}}}
 ]},
{"data":{"values":[{"label":"7.106","at":7.106}]},
 "layer":[
  {"mark":{"type":"bar","orient":"horizontal","height":18,"cornerRadius":3,"color":"#a9d9f2"},
   "encoding":{"x":{"datum":{"year":2026,"month":9,"date":1,"hours":1,"minutes":5,"utc":true},"type":"temporal"},
    "x2":{"datum":{"year":2026,"month":9,"date":1,"hours":7,"minutes":51,"utc":true}},
    "y":{"field":"at","type":"quantitative"}}},
  {"mark":{"type":"text","align":"right","baseline":"middle","dx":-4,"fontSize":11.5,"fontWeight":"bold","color":"#10182a"},
   "encoding":{"x":{"datum":{"year":2026,"month":9,"date":1,"hours":7,"minutes":51,"utc":true},"type":"temporal"},
    "y":{"field":"at","type":"quantitative"},"text":{"field":"label"}}}
 ]},
{"data":{"values":[{"text":"PROM / TetherUS · 1h · Binance\u00a0\u00a0O6.944\u00a0\u00a0H7.250\u00a0\u00a0L6.891\u00a0\u00a0C7.106\u00a0\u00a0(+2.33%)"}]},
 "mark":{"type":"text","align":"left","baseline":"middle","fontSize":14.5,"color":"#c6d4ea"},
 "encoding":{"x":{"datum":{"year":2026,"month":8,"date":20,"hours":13,"minutes":16,"utc":true},"type":"temporal"},
  "y":{"datum":8.144,"type":"quantitative"},"text":{"field":"text"}}},
{"data":{"values":[{"text":"30/8/2026"}]},
 "mark":{"type":"text","align":"right","baseline":"middle","fontSize":14,"color":"#4a5877"},
 "encoding":{"x":{"datum":{"year":2026,"month":8,"date":31,"hours":22,"minutes":49,"utc":true},"type":"temporal"},
  "y":{"datum":2.021,"type":"quantitative"},"text":{"field":"text"}}},
{"data":{"values":[{"text":"PROMUSDT | 60M"}]},
 "mark":{"type":"text","align":"right","baseline":"middle","fontSize":14.5,"fontWeight":"bold","color":"#4a5b7c"},
 "encoding":{"x":{"datum":{"year":2026,"month":8,"date":31,"hours":22,"minutes":49,"utc":true},"type":"temporal"},
  "y":{"datum":1.787,"type":"quantitative"},"text":{"field":"text"}}},
{"data":{"values":[{"text":"❖"}]},
 "mark":{"type":"text","align":"center","baseline":"middle","fontSize":28,"color":"#c5ccd8"},
 "encoding":{"x":{"datum":{"year":2026,"month":8,"date":31,"hours":2,"minutes":25,"utc":true},"type":"temporal"},
  "y":{"datum":1.40,"type":"quantitative"},"text":{"field":"text"}}},
{"data":{"values":[{"text":"@ CryptoTraders.com"}]},
 "mark":{"type":"text","align":"right","baseline":"middle","fontSize":24,"font":"Open Sans","color":"#c5ccd8"},
 "encoding":{"x":{"datum":{"year":2026,"month":9,"date":1,"hours":17,"minutes":0,"utc":true},"type":"temporal"},
  "y":{"datum":1.40,"type":"quantitative"},"text":{"field":"text"}}}
]
}
